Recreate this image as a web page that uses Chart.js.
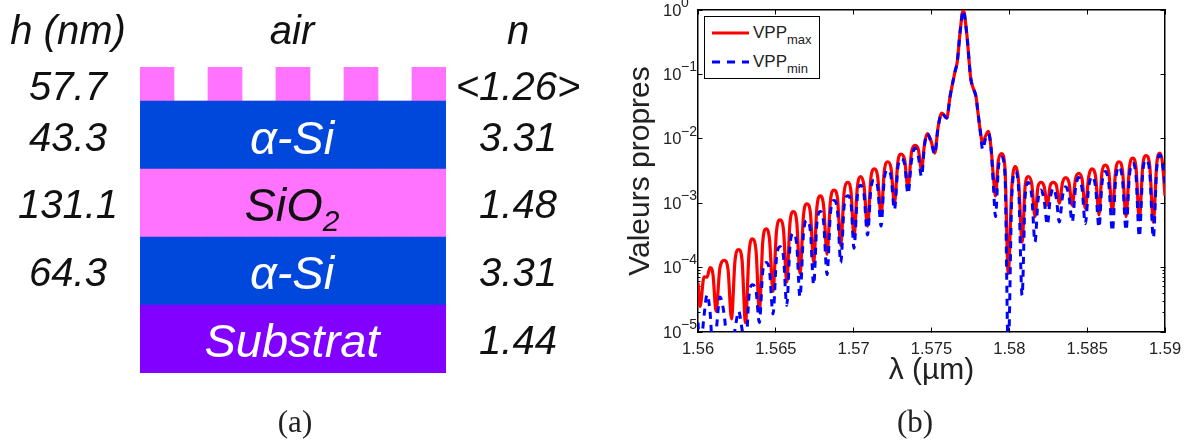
<!DOCTYPE html>
<html>
<head>
<meta charset="utf-8">
<title>VPP</title>
<script src="https://cdn.jsdelivr.net/npm/chart.js"></script>
<style>
    html, body { margin: 0; padding: 0; background: #fff; }
    #page { position: relative; width: 1192px; height: 443px; overflow: hidden; font-family: "Liberation Sans", sans-serif; }
    canvas { position: absolute; }
    #chart1 { left: 140px; top: 67px; }
    #chart2 { left: 0; top: 0; }
    .lbl { position: absolute; transform: translate(-50%, -50%); white-space: nowrap; font-size: 40px; font-style: italic; color: #111; }
    .lbl.inner { font-size: 47px; }
    .lbl.white { color: #fff; }
    .lbl sub { font-size: 30px; vertical-align: -10px; line-height: 0; }
    .caption { font-family: "Liberation Serif", serif; font-style: normal; font-size: 31px; color: #222; }
    #legend { position: absolute; left: 704px; top: 16px; width: 114px; height: 61px; border: 1.5px solid #000; background: #fff; font-size: 17px; color: #222; }
    #legend svg { position: absolute; left: 7px; }
    #legend span { position: absolute; left: 48px; line-height: 20px; }
    #legend sub { font-size: 13px; vertical-align: -6px; line-height: 0; }
</style>
</head>
<body>
<div id="page">
    <canvas id="chart1" width="306" height="306"></canvas>
    <canvas id="chart2" width="1192" height="443"></canvas>
    <div id="legend"></div>
</div>
<script>
// (a) layer stack
const columns = ['t1', 'g1', 't2', 'g2', 't3', 'g3', 't4', 'g4', 't5'];
const substrat = [2, 2, 2, 2, 2, 2, 2, 2, 2];
const siBas = [2, 2, 2, 2, 2, 2, 2, 2, 2];
const sio2 = [2, 2, 2, 2, 2, 2, 2, 2, 2];
const siHaut = [2, 2, 2, 2, 2, 2, 2, 2, 2];
const reseau = [1, 0, 1, 0, 1, 0, 1, 0, 1];

const hLabels = ['57.7', '43.3', '131.1', '64.3'];
const nLabels = ['<1.26>', '3.31', '1.48', '3.31', '1.44'];
const layerNames = ['α-Si', 'SiO<sub>2</sub>', 'α-Si', 'Substrat'];

// (b) spectrum
const lambda = [
    1.56000, 1.56013, 1.56039, 1.56058, 1.56077, 1.56096, 1.56116, 1.56141, 1.56169, 1.56193, 1.56215, 1.56238,
    1.56261, 1.56283, 1.56305, 1.56328, 1.56349, 1.56373, 1.56394, 1.56416, 1.56437, 1.56459, 1.56482, 1.56504,
    1.56527, 1.56549, 1.56570, 1.56591, 1.56612, 1.56634, 1.56655, 1.56678, 1.56700, 1.56722, 1.56743, 1.56764,
    1.56786, 1.56807, 1.56829, 1.56851, 1.56874, 1.56896, 1.56917, 1.56939, 1.56962, 1.56983, 1.57002, 1.57024,
    1.57045, 1.57066, 1.57089, 1.57111, 1.57133, 1.57154, 1.57176, 1.57197, 1.57219, 1.57240, 1.57262, 1.57284,
    1.57304, 1.57327, 1.57349, 1.57372, 1.57394, 1.57415, 1.57436, 1.57455, 1.57473, 1.57497, 1.57521, 1.57542,
    1.57566, 1.57598, 1.57619, 1.57651, 1.57666, 1.57683, 1.57704, 1.57726, 1.57752, 1.57767, 1.57786, 1.57799,
    1.57812, 1.57829, 1.57847, 1.57865, 1.57882, 1.57898, 1.57911, 1.57930, 1.57951, 1.57972, 1.57993, 1.58016,
    1.58038, 1.58060, 1.58082, 1.58102, 1.58122, 1.58144, 1.58165, 1.58184, 1.58203, 1.58224, 1.58244, 1.58263,
    1.58282, 1.58302, 1.58321, 1.58342, 1.58362, 1.58383, 1.58404, 1.58425, 1.58446, 1.58467, 1.58488, 1.58510,
    1.58531, 1.58554, 1.58576, 1.58595, 1.58617, 1.58639, 1.58662, 1.58683, 1.58705, 1.58727, 1.58750, 1.58771,
    1.58793, 1.58814, 1.58835, 1.58857, 1.58878, 1.58902, 1.58925, 1.58947, 1.58968, 1.58984, 1.59000
];
const vppMax = [
    5.8e-5, 2.5e-5, 7.2e-5, 7.1e-5, 1.0e-4, 7.9e-5, 2.1e-5, 1.0e-4, 1.3e-4, 9.3e-5, 1.6e-5, 1.3e-4,
    1.9e-4, 1.3e-4, 1.4e-5, 1.7e-4, 2.8e-4, 1.8e-4, 2.1e-5, 2.5e-4, 4.0e-4, 2.8e-4, 4.3e-5, 3.6e-4,
    5.5e-4, 3.9e-4, 6.0e-5, 5.0e-4, 7.4e-4, 5.2e-4, 8.1e-5, 6.6e-4, 9.8e-4, 7.1e-4, 1.2e-4, 8.7e-4,
    1.3e-3, 9.1e-4, 1.6e-4, 1.1e-3, 1.6e-3, 1.2e-3, 2.2e-4, 1.5e-3, 2.1e-3, 1.5e-3, 3.0e-4, 1.8e-3,
    2.6e-3, 1.9e-3, 4.4e-4, 2.5e-3, 3.4e-3, 2.6e-3, 6.6e-4, 3.2e-3, 4.4e-3, 3.5e-3, 1.0e-3, 4.4e-3,
    5.8e-3, 4.8e-3, 1.7e-3, 6.3e-3, 7.9e-3, 6.9e-3, 3.3e-3, 8.3e-3, 1.2e-2, 9.3e-3, 6.0e-3, 1.5e-2,
    2.5e-2, 2.1e-2, 4.5e-2, 1.1e-1, 1.6e-1, 4.4e-1, 1.0, 4.4e-1, 8.7e-2, 6.2e-2, 4.5e-2, 2.5e-2,
    1.4e-2, 8.5e-3, 1.1e-2, 1.3e-2, 7.4e-3, 2.5e-3, 1.3e-3, 4.7e-3, 5.9e-3, 3.5e-3, 8.1e-5, 1.8e-3,
    3.7e-3, 2.1e-3, 2.5e-4, 1.9e-3, 2.6e-3, 2.0e-3, 6.2e-4, 1.8e-3, 2.1e-3, 1.8e-3, 9.3e-4, 1.9e-3,
    2.1e-3, 1.9e-3, 1.0e-3, 2.1e-3, 2.5e-3, 2.1e-3, 9.3e-4, 2.4e-3, 2.9e-3, 2.4e-3, 8.3e-4, 2.6e-3,
    3.4e-3, 2.6e-3, 6.6e-4, 3.0e-3, 3.9e-3, 3.0e-3, 7.4e-4, 3.2e-3, 4.4e-3, 3.2e-3, 6.2e-4, 3.5e-3,
    5.0e-3, 3.5e-3, 5.5e-4, 3.8e-3, 5.5e-3, 3.8e-3, 5.1e-4, 4.1e-3, 6.0e-3, 4.2e-3, 1.3e-3
];
const vppMin = [
    1.4e-5, 5e-6, 1.8e-5, 3.8e-5, 2.1e-5, 5e-6, 1.0e-5, 3.5e-5, 1.8e-5, 5e-6, 5e-6, 1.1e-5,
    2.1e-5, 1.1e-5, 5e-6, 3.7e-5, 5.4e-5, 4.3e-5, 1.4e-5, 8.7e-5, 1.2e-4, 9.1e-5, 1.9e-5, 1.4e-4,
    2.1e-4, 1.5e-4, 2.6e-5, 2.2e-4, 3.4e-4, 2.3e-4, 3.5e-5, 3.5e-4, 5.4e-4, 3.7e-4, 5.4e-5, 4.9e-4,
    7.4e-4, 5.1e-4, 7.8e-5, 7.1e-4, 1.1e-3, 7.6e-4, 1.2e-4, 9.1e-4, 1.3e-3, 1.0e-3, 2.0e-4, 1.3e-3,
    1.9e-3, 1.4e-3, 3.2e-4, 1.7e-3, 2.3e-3, 1.8e-3, 4.4e-4, 2.4e-3, 3.3e-3, 2.6e-3, 7.9e-4, 3.6e-3,
    4.9e-3, 4.1e-3, 1.4e-3, 4.7e-3, 7.2e-3, 5.4e-3, 2.6e-3, 7.9e-3, 1.2e-2, 8.9e-3, 5.8e-3, 1.5e-2,
    2.5e-2, 2.1e-2, 4.5e-2, 1.1e-1, 1.6e-1, 4.4e-1, 9.8e-1, 4.4e-1, 8.7e-2, 6.2e-2, 4.5e-2, 2.5e-2,
    1.4e-2, 6.8e-3, 1.0e-2, 1.2e-2, 7.4e-3, 1.8e-3, 6.2e-4, 3.6e-3, 5.2e-3, 2.8e-3, 5e-6, 1.3e-3,
    3.1e-3, 1.6e-3, 3.7e-5, 1.3e-3, 2.1e-3, 1.3e-3, 2.5e-4, 1.1e-3, 1.6e-3, 1.1e-3, 4.6e-4, 1.2e-3,
    1.7e-3, 1.2e-3, 5.1e-4, 1.3e-3, 1.8e-3, 1.3e-3, 5.1e-4, 1.7e-3, 2.5e-3, 1.7e-3, 4.8e-4, 1.8e-3,
    2.6e-3, 1.8e-3, 4.2e-4, 2.0e-3, 3.1e-3, 2.0e-3, 3.7e-4, 2.3e-3, 3.7e-3, 2.3e-3, 3.8e-4, 2.6e-3,
    4.2e-3, 2.6e-3, 3.0e-4, 3.0e-3, 4.7e-3, 3.0e-3, 2.9e-4, 3.5e-3, 5.6e-3, 4.0e-3, 2.0e-3
];

const xTickValues = [1.56, 1.565, 1.57, 1.575, 1.58, 1.585, 1.59];
const xTickLabels = ['1.56', '1.565', '1.57', '1.575', '1.58', '1.585', '1.59'];
const yTickValues = [1e-5, 1e-4, 1e-3, 1e-2, 1e-1, 1];
const yTickExponents = ['−5', '−4', '−3', '−2', '−1', '0'];
const yMinorTicks = [2e-5, 3e-5, 4e-5, 5e-5, 6e-5, 7e-5, 8e-5, 9e-5];

const AXIS_COLOR = '#000';
const TEXT_COLOR = '#222';

Chart.defaults.animation = false;
Chart.defaults.font.family = '"Liberation Sans", sans-serif';

function addLabel(html, x, y, cls) {
    let el = document.createElement('div');
    el.className = 'lbl ' + (cls || '');
    el.style.left = x + 'px';
    el.style.top = y + 'px';
    el.innerHTML = html;
    document.getElementById('page').appendChild(el);
}

// left panel text
addLabel('h (nm)', 68, 30);
addLabel('air', 292, 30);
addLabel('n', 518, 30);
const rowCenters = [86, 137, 204, 272, 340];
for (let i = 0; i < hLabels.length; i++) {
    addLabel(hLabels[i], 68, rowCenters[i]);
}
for (let i = 0; i < nLabels.length; i++) {
    addLabel(nLabels[i].replace('<', '&lt;').replace('>', '&gt;'), 518, rowCenters[i]);
}
for (let i = 0; i < layerNames.length; i++) {
    let isDark = layerNames[i].startsWith('SiO');
    addLabel(layerNames[i], 292, rowCenters[i + 1], isDark ? 'inner' : 'inner white');
}
addLabel('(a)', 295, 422, 'caption');
addLabel('(b)', 915, 422, 'caption');

// legend, needs subscripts so it is a plain div
document.getElementById('legend').innerHTML =
    '<svg width="38" height="60"><line x1="0" x2="37" y1="16" y2="16" stroke="#f00" stroke-width="3"/>' +
    '<line x1="0" x2="37" y1="45" y2="45" stroke="#00f" stroke-width="3" stroke-dasharray="8 7"/></svg>' +
    '<span style="top:6px">VPP<sub>max</sub></span><span style="top:35px">VPP<sub>min</sub></span>';

function layer(data, color) {
    return { data: data, backgroundColor: color, borderWidth: 0, barPercentage: 1, categoryPercentage: 1, stack: 's' };
}

new Chart(document.getElementById('chart1'), {
    type: 'bar',
    data: {
        labels: columns,
        datasets: [
            layer(substrat, '#8200ff'),
            layer(siBas, '#0047dc'),
            layer(sio2, '#ff73ff'),
            layer(siHaut, '#0047dc'),
            layer(reseau, '#ff73ff')
        ]
    },
    options: {
        responsive: false,
        plugins: { legend: { display: false }, tooltip: { enabled: false } },
        scales: {
            x: { display: false, stacked: true },
            y: { display: false, stacked: true, min: 0, max: 9 }
        }
    }
});

function toPoints(values) {
    return values.map((v, i) => ({ x: lambda[i], y: v }));
}

// extra log axes only carry tick marks (top/right box, minor ticks)
function logTickAxis(position, values, tickLength, showBorder) {
    return {
        type: 'logarithmic',
        axis: 'y',
        position: position,
        min: 1e-5,
        max: 1,
        weight: 0,
        afterBuildTicks: function (scale) { scale.ticks = values.map(v => ({ value: v })); },
        afterFit: function (scale) { scale.width = 0; },
        ticks: { display: false },
        grid: { drawOnChartArea: false, tickLength: tickLength, color: AXIS_COLOR, lineWidth: 1 },
        border: { display: showBorder, color: AXIS_COLOR, width: 1.5 }
    };
}

// "10" with a raised exponent, the tick callback can't do that
const powerLabels = {
    id: 'powerLabels',
    afterDraw: function (chart) {
        let ctx = chart.ctx;
        let scale = chart.scales.y;
        ctx.save();
        ctx.fillStyle = TEXT_COLOR;
        ctx.textAlign = 'left';
        ctx.textBaseline = 'middle';
        for (let i = 0; i < yTickValues.length; i++) {
            let py = scale.getPixelForValue(yTickValues[i]);
            ctx.font = '16.5px "Liberation Sans"';
            ctx.fillText('10', 663, py + 1);
            ctx.font = '14px "Liberation Sans"';
            ctx.fillText(yTickExponents[i], 681, py - 7);
        }
        ctx.restore();
    }
};

new Chart(document.getElementById('chart2'), {
    type: 'line',
    data: {
        datasets: [
            {
                label: 'VPPmax',
                data: toPoints(vppMax),
                borderColor: '#ff0000',
                borderWidth: 3.2,
                pointRadius: 0,
                cubicInterpolationMode: 'monotone',
                order: 2
            },
            {
                label: 'VPPmin',
                data: toPoints(vppMin),
                borderColor: '#0000ff',
                borderWidth: 3,
                borderDash: [7, 6],
                pointRadius: 0,
                cubicInterpolationMode: 'monotone',
                order: 1
            }
        ]
    },
    plugins: [powerLabels],
    options: {
        responsive: false,
        layout: { autoPadding: false, padding: { left: 620, top: 10, right: 27, bottom: 0 } },
        plugins: { legend: { display: false }, tooltip: { enabled: false } },
        scales: {
            x: {
                type: 'linear',
                position: 'bottom',
                min: 1.56,
                max: 1.59,
                afterBuildTicks: function (scale) { scale.ticks = xTickValues.map(v => ({ value: v })); },
                afterFit: function (scale) {
                    scale.height = 111;
                    scale.paddingLeft = 0;
                    scale.paddingRight = 0;
                },
                ticks: {
                    callback: (v, i) => xTickLabels[i],
                    font: { size: 16.5 },
                    color: TEXT_COLOR,
                    padding: 12,
                    maxRotation: 0,
                    autoSkip: false
                },
                grid: { drawOnChartArea: false, tickLength: -4.5, color: AXIS_COLOR, lineWidth: 1 },
                border: { color: AXIS_COLOR, width: 1.5 },
                title: { display: true, text: 'λ (µm)', font: { size: 30 }, color: TEXT_COLOR, padding: { top: 0, bottom: 54 } }
            },
            xTop: {
                type: 'linear',
                axis: 'x',
                position: 'top',
                min: 1.56,
                max: 1.59,
                afterBuildTicks: function (scale) { scale.ticks = xTickValues.map(v => ({ value: v })); },
                afterFit: function (scale) { scale.height = 0; },
                ticks: { display: false },
                grid: { drawOnChartArea: false, tickLength: -4.5, color: AXIS_COLOR, lineWidth: 1 },
                border: { color: AXIS_COLOR, width: 1.5 }
            },
            y: {
                type: 'logarithmic',
                position: 'left',
                min: 1e-5,
                max: 1,
                weight: 1,
                afterBuildTicks: function (scale) { scale.ticks = yTickValues.map(v => ({ value: v })); },
                afterFit: function (scale) { scale.width = 78; },
                ticks: { display: false },
                grid: { drawOnChartArea: false, tickLength: -4.5, color: AXIS_COLOR, lineWidth: 1 },
                border: { color: AXIS_COLOR, width: 1.5 },
                title: { display: true, text: 'Valeurs propres', font: { size: 30 }, color: TEXT_COLOR, padding: { top: 3, bottom: 0 } }
            },
            yRight: logTickAxis('right', yTickValues, -4.5, true),
            yRightMinor: logTickAxis('right', yMinorTicks, -2.5, false),
            yLeftMinor: logTickAxis('left', yMinorTicks, -2.5, false)
        }
    }
});
</script>
</body>
</html>
